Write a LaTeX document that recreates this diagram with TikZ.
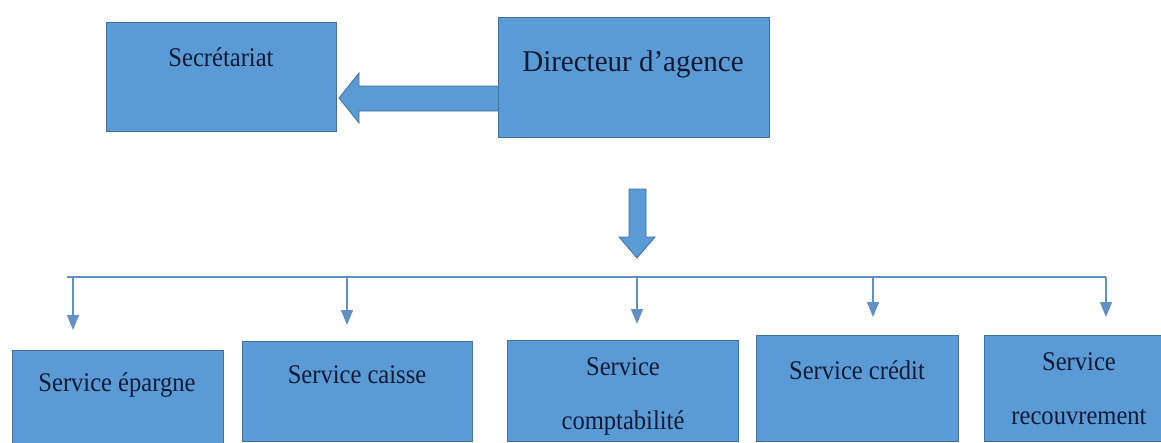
\documentclass[tikz,border=0pt]{standalone}
\usepackage{fontspec}
\setmainfont{Liberation Serif}
\newfontfamily\condserif[FakeStretch=0.91]{Liberation Serif}
\newfontfamily\dirserif[FakeStretch=0.96]{Liberation Serif}
\usetikzlibrary{arrows.meta,calc}
\definecolor{boxfill}{HTML}{5B9BD5}
\definecolor{boxline}{HTML}{41719C}
\definecolor{conn}{HTML}{6390C4}
\definecolor{txtcol}{HTML}{111A35}
\tikzset{
  orgbox/.style={draw=boxline,fill=boxfill,line width=1pt,rectangle,inner sep=0pt},
  lbl/.style={anchor=base,inner sep=0pt,text=txtcol,font=\condserif\fontsize{27}{30}\selectfont},
  biglbl/.style={anchor=base,inner sep=0pt,text=txtcol,font=\dirserif\fontsize{30.2}{34}\selectfont},
  blockarrow/.style={draw=boxline,fill=boxfill,line width=0.8pt,line join=miter},
  connline/.style={draw=conn,line width=1.3pt},
  connarrow/.style={draw=conn,line width=1.3pt,-{Triangle[width=12pt,length=15pt]}}
}
\begin{document}
\begin{tikzpicture}[x=1pt,y=-1pt]
\useasboundingbox (0,0) rectangle (1161,442);
\fill[white] (0,0) rectangle (1161,442);
% top boxes
\node[orgbox,minimum width=230pt,minimum height=109pt,anchor=north west] (sec) at (106,22) {};
\node[orgbox,minimum width=271pt,minimum height=120pt,anchor=north west] (dir) at (498,17) {};
\node[lbl] (tsec) at (221,66) {Secrétariat};
\node[biglbl] (tdir) at (633,71) {Directeur d’agence};
% bottom boxes
\node[orgbox,minimum width=211pt,minimum height=100pt,anchor=north west] (b1) at (12,350) {};
\node[orgbox,minimum width=230pt,minimum height=100pt,anchor=north west] (b2) at (242,341) {};
\node[orgbox,minimum width=231pt,minimum height=101pt,anchor=north west] (b3) at (507,340) {};
\node[orgbox,minimum width=202pt,minimum height=106pt,anchor=north west] (b4) at (756,335) {};
\node[orgbox,minimum width=190pt,minimum height=106pt,anchor=north west] (b5) at (984,335) {};
\node[lbl] (t1) at (117,391) {Service épargne};
\node[lbl] (t2) at (357,383) {Service caisse};
\node[lbl] (t3a) at (623,375) {Service};
\node[lbl] (t3b) at (623,429) {comptabilité};
\node[lbl] (t4) at (857,379) {Service crédit};
\node[lbl] (t5a) at (1079,370) {Service};
\node[lbl] (t5b) at (1079,424) {recouvrement};
% block arrow Directeur -> Secretariat
\draw[blockarrow] (dir.west |- 0,86) -- (359,86) -- (359,73) -- ([xshift=2pt]sec.east |- 0,98)
  -- (359,123) -- (359,111) -- (dir.west |- 0,111);
% big down arrow
\coordinate (dtip) at (637,258);
\draw[blockarrow] (629,189) -- (646,189) -- (646,237) -- (655,237) -- (dtip) -- (619,237) -- (629,237) -- cycle;
% distribution line
\coordinate (h0) at (67,277);
\coordinate (h1) at (73,277);
\coordinate (h2) at (347,277);
\coordinate (h3) at (637,277);
\coordinate (h4) at (873,277);
\coordinate (h5) at (1106,277);
\coordinate (e1) at (73,330);
\coordinate (e2) at (347,325);
\coordinate (e3) at (637,324);
\coordinate (e4) at (873,317);
\coordinate (e5) at (1106,317);
\draw[connline] (h0) -- (h5);
\draw[connarrow] (h1) -- (e1);
\draw[connarrow] (h2) -- (e2);
\draw[connarrow] (h3) -- (e3);
\draw[connarrow] (h4) -- (e4);
\draw[connarrow] (h5) -- (e5);
\end{tikzpicture}
\end{document}
